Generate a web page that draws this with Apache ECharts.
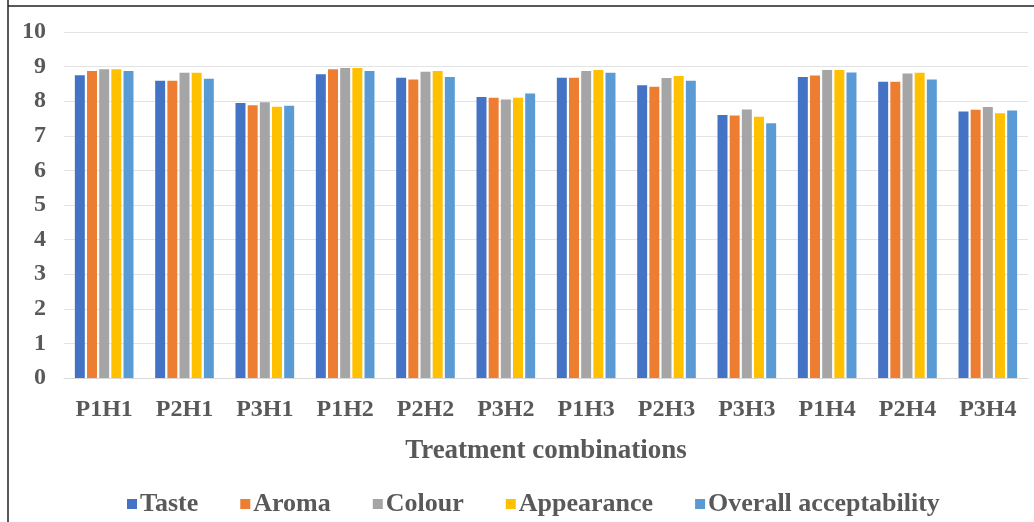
<!DOCTYPE html>
<html>
<head>
<meta charset="utf-8">
<script src="https://cdn.jsdelivr.net/npm/echarts@6/dist/echarts.min.js"></script>
<style>
html,body{margin:0;padding:0;background:#fff;}
#c{width:1034px;height:522px;}
</style>
</head>
<body>
<div id="c"></div>
<script>
const categories = ['P1H1','P2H1','P3H1','P1H2','P2H2','P3H2','P1H3','P2H3','P3H3','P1H4','P2H4','P3H4'];
const taste      = [8.75, 8.59, 7.95, 8.78, 8.68, 8.12, 8.68, 8.46, 7.60, 8.70, 8.56, 7.70];
const aroma      = [8.87, 8.59, 7.88, 8.92, 8.63, 8.10, 8.68, 8.42, 7.59, 8.74, 8.56, 7.75];
const colour     = [8.92, 8.82, 7.97, 8.96, 8.85, 8.05, 8.87, 8.67, 7.76, 8.90, 8.80, 7.83];
const appearance = [8.92, 8.82, 7.84, 8.96, 8.87, 8.10, 8.90, 8.73, 7.55, 8.90, 8.82, 7.65];
const overall    = [8.87, 8.65, 7.87, 8.87, 8.70, 8.22, 8.82, 8.59, 7.36, 8.83, 8.63, 7.73];
const seriesNames = ['Taste','Aroma','Colour','Appearance','Overall acceptability'];
const seriesData = [taste, aroma, colour, appearance, overall];
const colors = ['#4472C4','#ED7D31','#A5A5A5','#FFC000','#5B9BD5'];

const font = 'Liberation Serif';
const chart = echarts.init(document.getElementById('c'));
chart.setOption({
  animation: false,
  color: colors,
  grid: {left: 64, right: 6, top: 32, bottom: 144, containLabel: false},
  graphic: [
    {type: 'line', shape: {x1: 8, y1: 0, x2: 8, y2: 522}, style: {stroke: '#222', lineWidth: 1.5}},
    {type: 'line', shape: {x1: 8, y1: 6, x2: 1034, y2: 6}, style: {stroke: '#222', lineWidth: 1.5}}
  ],
  xAxis: {
    type: 'category',
    data: categories,
    name: 'Treatment combinations',
    nameLocation: 'middle',
    nameGap: 60,
    nameTextStyle: {fontFamily: font, fontWeight: 'bold', fontSize: 27, color: '#595959'},
    axisLine: {show: true, lineStyle: {color: '#d9d9d9'}},
    axisTick: {show: false},
    axisLabel: {fontFamily: font, fontWeight: 'bold', fontSize: 24, color: '#595959', margin: 20}
  },
  yAxis: {
    type: 'value',
    min: 0, max: 10, interval: 1,
    axisLine: {show: false},
    axisTick: {show: false},
    splitLine: {lineStyle: {color: '#e3e3e3'}},
    axisLabel: {fontFamily: font, fontWeight: 'bold', fontSize: 24, color: '#595959', margin: 18}
  },
  legend: {
    bottom: 0,
    left: 122,
    itemWidth: 10, itemHeight: 10, itemGap: 42,
    icon: 'rect',
    textStyle: {fontFamily: font, fontWeight: 'bold', fontSize: 26, color: '#595959', padding: [0,0,0,-2]},
    data: seriesNames
  },
  series: seriesNames.map((n, i) => ({
    name: n,
    type: 'bar',
    data: seriesData[i],
    barGap: '22%',
    barCategoryGap: '27%'
  }))
});
</script>
</body>
</html>
